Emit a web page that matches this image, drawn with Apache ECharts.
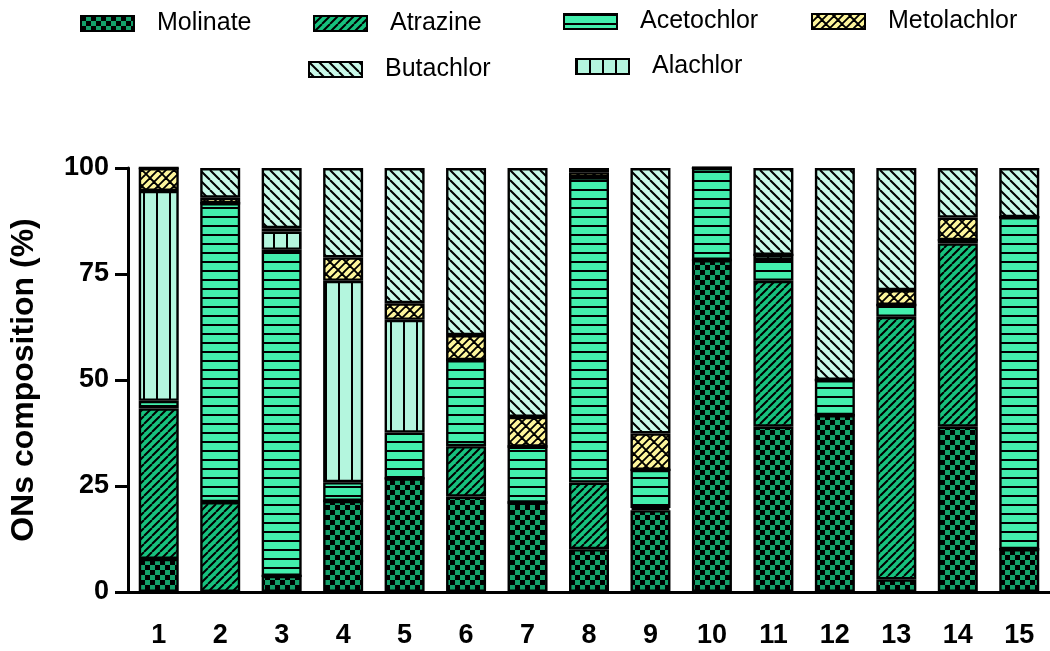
<!DOCTYPE html>
<html>
<head>
<meta charset="utf-8">
<script src="https://cdn.jsdelivr.net/npm/echarts@6/dist/echarts.min.js"></script>
<style>
  html, body { margin: 0; padding: 0; background: #fff; }
  #chart { width: 1050px; height: 651px; }
</style>
</head>
<body>
<div id="chart"></div>
<script>
// sample numbers 1..15, composition in %
var samples = ['1', '2', '3', '4', '5', '6', '7', '8', '9', '10', '11', '12', '13', '14', '15'];
var yTicks = [0, 25, 50, 75, 100];

var molinate    = [7.8, 0, 3.8, 21.5, 26.8, 22.5, 21.1, 10.1, 19.3, 78.3, 39, 41.7, 3, 39, 10.1];
var atrazine    = [35.5, 21.2, 0, 0, 0, 11.9, 0, 15.7, 0.5, 0, 34.4, 0, 61.9, 43.2, 0];
var acetochlor  = [1.8, 70.5, 76.9, 4.4, 10.8, 20.3, 13.2, 72.0, 9.0, 21.7, 4.9, 8.3, 2.8, 0.8, 78.3];
var alachlor    = [49.5, 0, 4.3, 47.5, 26.6, 0, 0, 0, 0, 0, 1.2, 0, 0, 0, 0];
var metolachlor = [5.4, 1.3, 0.8, 5.5, 3.9, 5.9, 7.0, 1.2, 8.6, 0, 0, 0, 3.5, 5.3, 0];
var butachlor   = [0, 7.0, 14.2, 21.1, 31.9, 39.4, 58.7, 1.0, 62.6, 0, 20.5, 50, 28.8, 11.7, 11.6];

// fill patterns drawn on small canvases
function makePattern(w, h, bg, draw) {
  var c = document.createElement('canvas');
  c.width = w;
  c.height = h;
  var ctx = c.getContext('2d');
  ctx.fillStyle = bg;
  ctx.fillRect(0, 0, w, h);
  ctx.fillStyle = '#000';
  ctx.strokeStyle = '#000';
  draw(ctx, w, h);
  return { image: c, repeat: 'repeat' };
}

var patChecker = makePattern(10, 10, '#14a06a', function (ctx) {
  ctx.fillRect(0, 0, 5, 5);
  ctx.fillRect(5, 5, 5, 5);
});
var patSlash = makePattern(8, 8, '#17c17e', function (ctx, s) {
  ctx.lineWidth = 2;
  ctx.beginPath();
  [-s, 0, s].forEach(function (k) {
    ctx.moveTo(k, s);
    ctx.lineTo(k + s, 0);
  });
  ctx.stroke();
});
var patHoriz = makePattern(9, 9, '#43efad', function (ctx, w) {
  ctx.fillRect(0, 0, w, 2);
});
var patVert = makePattern(13, 13, '#b4f6de', function (ctx, w, h) {
  ctx.fillRect(0, 0, 2, h);
});
var patBack = makePattern(10, 10, '#c8f9e8', function (ctx, s) {
  ctx.lineWidth = 2;
  ctx.beginPath();
  [-s, 0, s].forEach(function (k) {
    ctx.moveTo(k, 0);
    ctx.lineTo(k + s, s);
  });
  ctx.stroke();
});
var patBrick = makePattern(16, 16, '#fdf59b', function (ctx) {
  ctx.lineWidth = 1.8;
  ctx.beginPath();
  [-16, 0, 16].forEach(function (dx) {
    [-16, 0, 16].forEach(function (dy) {
      [0, 8].forEach(function (k) {
        ctx.moveTo(k + dx, 16 + dy);
        ctx.lineTo(k + 16 + dx, dy);
      });
      // short cross pieces, staggered
      ctx.moveTo(2 + dx, 14 + dy); ctx.lineTo(6 + dx, 18 + dy);
      ctx.moveTo(10 + dx, 6 + dy); ctx.lineTo(14 + dx, 10 + dy);
      ctx.moveTo(14 + dx, 10 + dy); ctx.lineTo(18 + dx, 14 + dy);
      ctx.moveTo(22 + dx, 2 + dy); ctx.lineTo(26 + dx, 6 + dy);
    });
  });
  ctx.stroke();
});

function barSeries(name, data, fill) {
  return {
    name: name,
    type: 'bar',
    stack: 'total',
    barWidth: 40,
    data: data,
    itemStyle: {
      color: fill,
      borderColor: '#000',
      borderWidth: 2.4
    },
    emphasis: { disabled: true }
  };
}

function legendAt(name, left, top) {
  return {
    data: [name],
    left: left,
    top: top,
    icon: 'rect',
    itemWidth: 53,
    itemHeight: 15,
    selectedMode: false,
    textStyle: {
      fontFamily: 'Liberation Sans',
      fontSize: 25,
      color: '#000',
      padding: [0, 0, 0, 18]
    }
  };
}

var chart = echarts.init(document.getElementById('chart'));
var option = {
  animation: false,
  backgroundColor: '#fff',
  legend: [
    legendAt('Molinate', 75, 6),
    legendAt('Atrazine', 308, 6),
    legendAt('Acetochlor', 558, 4),
    legendAt('Metolachlor', 806, 4),
    legendAt('Butachlor', 303, 52),
    legendAt('Alachlor', 570, 49)
  ],
  grid: {
    left: 127,
    right: 0,
    top: 168,
    bottom: 59
  },
  xAxis: {
    type: 'category',
    data: samples,
    axisLine: { lineStyle: { color: '#000', width: 3 } },
    axisTick: { alignWithLabel: true, length: 10, lineStyle: { color: '#000', width: 3 } },
    axisLabel: {
      margin: 30,
      color: '#000',
      fontFamily: 'Liberation Sans',
      fontWeight: 'bold',
      fontSize: 27
    }
  },
  yAxis: {
    type: 'value',
    min: yTicks[0],
    max: yTicks[yTicks.length - 1],
    interval: 25,
    name: 'ONs composition (%)',
    nameLocation: 'middle',
    nameGap: 88,
    nameTextStyle: {
      color: '#000',
      fontFamily: 'Liberation Sans',
      fontWeight: 'bold',
      fontSize: 32
    },
    axisLine: { show: true, lineStyle: { color: '#000', width: 3 } },
    axisTick: { show: true, length: 13, lineStyle: { color: '#000', width: 3 } },
    splitLine: { show: false },
    axisLabel: {
      margin: 19,
      color: '#000',
      fontFamily: 'Liberation Sans',
      fontWeight: 'bold',
      fontSize: 27
    }
  },
  series: [
    barSeries('Molinate', molinate, patChecker),
    barSeries('Atrazine', atrazine, patSlash),
    barSeries('Acetochlor', acetochlor, patHoriz),
    barSeries('Alachlor', alachlor, patVert),
    barSeries('Metolachlor', metolachlor, patBrick),
    barSeries('Butachlor', butachlor, patBack)
  ]
};
chart.setOption(option);
</script>
</body>
</html>
